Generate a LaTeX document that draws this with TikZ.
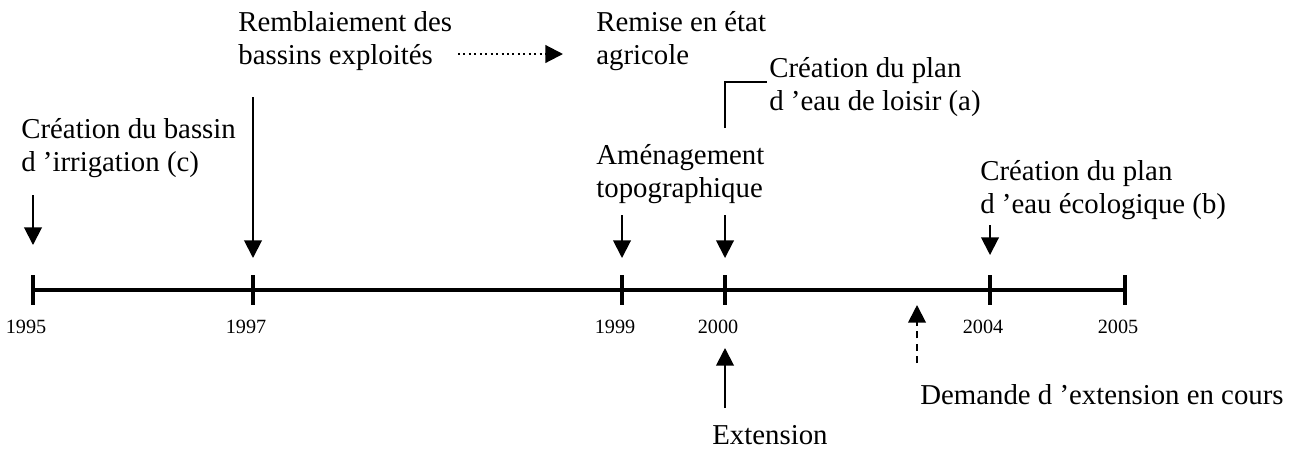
\documentclass[tikz,border=0pt]{standalone}
\usepackage{fontspec}
\setmainfont{Liberation Serif}
\usetikzlibrary{arrows.meta,positioning}
\tikzset{
>={Triangle[length=10pt,width=10pt]},
txt/.style={anchor=base west,align=left,inner sep=0pt,font=\fontsize{16.4}{18.3}\selectfont},
year/.style={anchor=base,inner sep=0pt,font=\fontsize{11.5}{13}\selectfont},
tick/.style={line width=2.2pt},
axis/.style={line width=2.8pt},
event/.style={->,line width=1.1pt},
}
\begin{document}
\begin{tikzpicture}[x=0.02cm,y=-0.02cm]
    \useasboundingbox (0,0) rectangle (1310,451);
    % axe du temps
    \coordinate (a1995) at (33,290);
    \coordinate (a1997) at (253,290);
    \coordinate (a1999) at (622,290);
    \coordinate (a2000) at (725,290);
    \coordinate (a2004) at (990,290);
    \coordinate (a2005) at (1125,290);
    \draw[axis] (a1995) -- (a2005);
    \foreach \y in {1995,1997,1999,2000,2004,2005}{
        \draw[tick] (a\y) ++(0,-15) -- ++(0,30);
        \path (a\y) ++(-7,43) node[year] (y\y) {\y};
    }
    % textes (ancre = ligne de base de la derniere ligne)
    \node[txt] (bassin) at (21,171) {Création du bassin\\d 'irrigation (c)};
    \node[txt] (rembl) at (238,64) {Remblaiement des\\bassins exploités};
    \node[txt] (remise) at (596,64) {Remise en état\\agricole};
    \node[txt] (loisir) at (769,110) {Création du plan\\d 'eau de loisir (a)};
    \node[txt] (amgt) at (596,197) {Aménagement\\topographique};
    \node[txt] (ecolo) at (980,213) {Création du plan\\d 'eau écologique (b)};
    \node[txt] (demande) at (920,404) {Demande d 'extension en cours};
    \node[txt] (ext) at (712,444) {Extension};
    % fleches
    \coordinate (d1995) at (33,195);
    \coordinate (f1995) at (33,245);
    \draw[event] (d1995) -- (f1995);
    \coordinate (d1997) at (253,97);
    \coordinate (f1997) at (253,258);
    \draw[event] (d1997) -- (f1997);
    \coordinate (d1999) at (622,215);
    \coordinate (f1999) at (622,258);
    \draw[event] (d1999) -- (f1999);
    \coordinate (d2000) at (725,215);
    \coordinate (f2000) at (725,258);
    \draw[event] (d2000) -- (f2000);
    \coordinate (d2004) at (990,225);
    \coordinate (f2004) at (990,255);
    \draw[event] (d2004) -- (f2004);
    \coordinate (c1) at (725,128);
    \coordinate (c2) at (767,82);
    \draw[line width=1.1pt] (c1) |- (c2);
    \coordinate (dext) at (725,408);
    \coordinate (fext) at (725,348);
    \draw[event] (dext) -- (fext);
    \coordinate (ddem) at (917,363);
    \coordinate (fdem) at (917,305);
    \draw[event,dash pattern=on 4pt off 3pt] (ddem) -- (fdem);
    \coordinate (dpt1) at (458,54);
    \coordinate (dpt2) at (563,54);
    \draw[event,dotted,line width=1.2pt] (dpt1) -- (dpt2);
\end{tikzpicture}
\end{document}
